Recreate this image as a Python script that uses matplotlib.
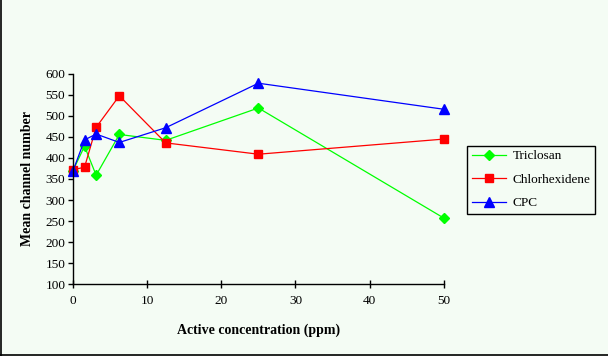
import matplotlib
matplotlib.use("Agg")
import matplotlib.pyplot as plt
from matplotlib.lines import Line2D

# data
conc = [0, 1.56, 3.125, 6.25, 12.5, 25, 50]
triclosan = [370, 428, 359, 456, 442, 519, 257]
chlorhexidene = [372, 378, 473, 548, 436, 409, 445]
cpc = [369, 443, 457, 437, 472, 578, 516]

series_names = ["Triclosan", "Chlorhexidene", "CPC"]
series_colors = ["#00FF00", "#FF0000", "#0000FF"]
series_markers = ["D", "s", "^"]

BG = "#F4FCF4"

plt.rcParams["font.family"] = ["Liberation Serif", "DejaVu Serif"]

fig = plt.figure(figsize=(6.08, 3.56), dpi=100, facecolor=BG)
ax = fig.add_axes([0.120, 0.2022, 0.610, 0.590])
ax.set_facecolor(BG)

msizes = [5, 6, 6.5]
for vals, name, c, m, ms in zip([triclosan, chlorhexidene, cpc], series_names,
                                series_colors, series_markers, msizes):
    ax.plot(conc, vals, color=c, marker=m, markersize=ms, linewidth=0.9,
            markeredgecolor=c, label=name, clip_on=False)

ax.set_xlim(0, 50)
ax.set_ylim(100, 600)
ax.set_xticks(range(0, 51, 10))
ax.set_yticks(range(100, 601, 50))
for s in ["top", "right"]:
    ax.spines[s].set_visible(False)
for s in ["left", "bottom"]:
    ax.spines[s].set_linewidth(1.0)
ax.tick_params(axis="y", direction="out", length=3.5, width=1, labelsize=9.5, pad=2)
ax.tick_params(axis="x", direction="inout", length=6, width=1, labelsize=9.5, pad=5)

ax.set_xlabel("Active concentration (ppm)", fontsize=10, fontweight="bold", labelpad=12)
ax.set_ylabel("Mean channel number", fontsize=10, fontweight="bold", labelpad=8)

leg = ax.legend(loc="upper left", bbox_to_anchor=(0.768, 0.591),
                bbox_transform=fig.transFigure, frameon=True, fancybox=False,
                edgecolor="black", facecolor=BG, framealpha=1,
                fontsize=9.5, handlelength=2.6, handletextpad=0.5,
                borderpad=0.35, labelspacing=0.85, borderaxespad=0)
leg.get_frame().set_linewidth(1.0)

# figure border on the left and bottom
fig.add_artist(Line2D([0.001, 0.001], [0, 1], color="black", lw=1.2, transform=fig.transFigure))
fig.add_artist(Line2D([0, 1], [0.002, 0.002], color="black", lw=1.2, transform=fig.transFigure))

fig.savefig("out.png", dpi=100, facecolor=BG)
